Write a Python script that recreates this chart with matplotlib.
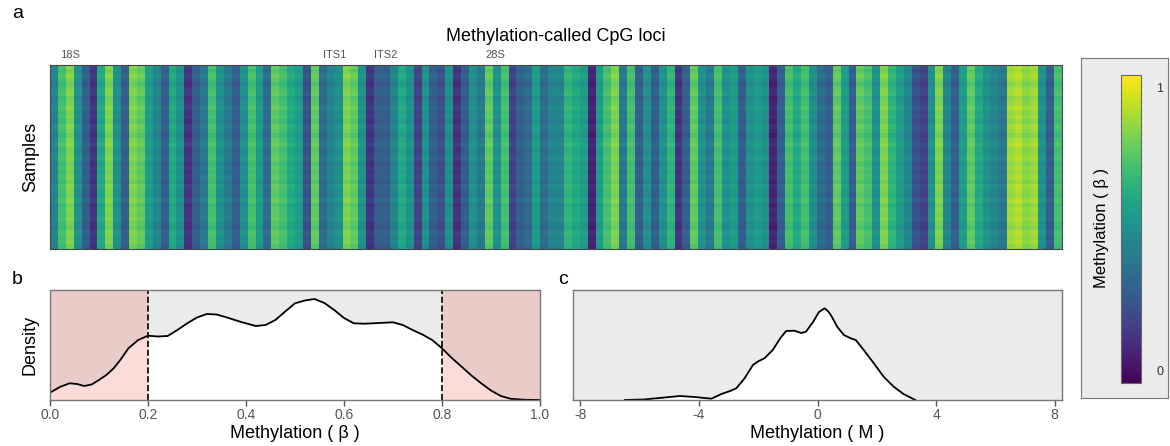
import numpy as np
import matplotlib
matplotlib.use("Agg")
import matplotlib.pyplot as plt
from matplotlib.colors import Normalize
import matplotlib.cm as cm

plt.rcParams['font.family'] = ['Liberation Sans', 'DejaVu Sans']
plt.rcParams['axes.unicode_minus'] = False

# column-wise methylation (beta) of CpG loci, read left to right
loci_beta = [
    0.45, 0.70, 0.80, 0.50, 0.30, 0.15, 0.60, 0.80, 0.50, 0.30, 0.80, 0.75, 0.55, 0.45, 0.30, 0.60,
    0.50, 0.15, 0.30, 0.40, 0.70, 0.50, 0.40, 0.30, 0.50, 0.70, 0.55, 0.35, 0.75, 0.70, 0.60, 0.55,
    0.25, 0.75, 0.35, 0.45, 0.50, 0.80, 0.75, 0.50, 0.15, 0.30, 0.30, 0.45, 0.60, 0.50, 0.20, 0.50,
    0.30, 0.25, 0.50, 0.15, 0.30, 0.50, 0.40, 0.75, 0.50, 0.70, 0.20, 0.30, 0.35, 0.55, 0.35, 0.45,
    0.45, 0.65, 0.60, 0.55, 0.10, 0.55, 0.70, 0.80, 0.40, 0.70, 0.30, 0.50, 0.30, 0.50, 0.65, 0.15,
    0.30, 0.75, 0.50, 0.40, 0.70, 0.50, 0.55, 0.30, 0.50, 0.55, 0.50, 0.10, 0.30, 0.70, 0.60, 0.70,
    0.50, 0.35, 0.30, 0.75, 0.55, 0.30, 0.75, 0.70, 0.50, 0.80, 0.65, 0.55, 0.45, 0.25, 0.20, 0.50,
    0.80, 0.45, 0.30, 0.55, 0.75, 0.60, 0.50, 0.45, 0.40, 0.85, 0.88, 0.82, 0.85, 0.50, 0.30, 0.70,
]
# per-sample shift (estimated texture of the rows)
sample_shift = [0.02, -0.01, 0.03, 0.00, -0.03, 0.01, 0.02, -0.02, 0.00, 0.03, -0.01, 0.01,
                -0.02, 0.02, 0.00, -0.03, 0.01, 0.03, -0.01, 0.00, 0.02, -0.02, 0.01, -0.01,
                0.01, -0.02, 0.02, 0.00, -0.01, 0.03, -0.02, 0.01, 0.00, 0.02, -0.01, -0.03,
                0.02, 0.00, 0.01, -0.02]

region_labels = ['18S', 'ITS1', 'ITS2', '28S']
region_pos = [0.01, 0.27, 0.32, 0.43]

# density of beta values
beta_x = [0.0, 0.02, 0.04, 0.055, 0.07, 0.085, 0.10, 0.115, 0.13, 0.145, 0.16, 0.18, 0.20,
          0.22, 0.24, 0.26, 0.28, 0.30, 0.32, 0.34, 0.36, 0.39, 0.42, 0.44, 0.46, 0.48, 0.50,
          0.52, 0.54, 0.56, 0.58, 0.60, 0.62, 0.64, 0.66, 0.68, 0.70, 0.72, 0.74, 0.76, 0.78,
          0.80, 0.82, 0.84, 0.86, 0.88, 0.90, 0.92, 0.94, 0.97, 1.0]
beta_d = [7.3, 13.0, 16.7, 16.0, 14.0, 15.5, 20.0, 25.0, 31.7, 41.0, 51.7, 60.0, 64.3,
          63.5, 64.0, 70.0, 76.7, 82.5, 86.0, 85.5, 82.7, 78.0, 74.0, 75.0, 80.0, 88.5, 96.7,
          99.5, 101.0, 97.0, 90.0, 82.0, 76.7, 76.3, 76.7, 77.2, 77.7, 75.0, 70.0, 65.5, 60.0,
          51.7, 42.0, 33.3, 24.5, 16.7, 9.5, 4.0, 1.2, 0.2, 0.0]

# density of M values
m_x = [-6.5, -5.87, -5.09, -4.64, -4.14, -3.58, -3.24, -2.95, -2.74, -2.46, -2.18, -1.98, -1.79,
       -1.51, -1.25, -1.06, -0.78, -0.55, -0.39, -0.15, 0.05, 0.24, 0.35, 0.45, 0.67, 0.89, 1.12,
       1.29, 1.56, 1.90, 2.23, 2.57, 2.90, 3.10, 3.30]
m_d = [0.0, 0.5, 2.7, 4.0, 3.0, 1.3, 6.0, 9.0, 11.7, 21.7, 35.0, 39.0, 41.7,
       50.0, 62.0, 69.0, 69.3, 67.0, 68.3, 78.0, 88.0, 91.7, 89.0, 85.0, 73.0, 65.0, 61.7,
       60.0, 50.0, 36.7, 23.3, 13.3, 6.0, 3.0, 0.0]

W, H = 1170, 446
fig = plt.figure(figsize=(W / 100, H / 100), dpi=100)


def box(x0, y0, x1, y1):
    return [x0 / W, 1 - y1 / H, (x1 - x0) / W, (y1 - y0) / H]


tick_col = '#555555'
spine_col = '#777777'

# a: heatmap
ax_a = fig.add_axes(box(50, 65, 1062, 249))
mat = np.clip(np.array(loci_beta)[None, :] + np.array(sample_shift)[:, None], 0, 1)
ax_a.imshow(mat, aspect='auto', cmap='viridis', vmin=0, vmax=1, interpolation='nearest')
ax_a.set_xticks([])
ax_a.set_yticks([])
for s in ax_a.spines.values():
    s.set_color('#444444')
    s.set_linewidth(0.8)
ax_a.set_ylabel('Samples', fontsize=13, labelpad=8)
ax_a.set_title('Methylation-called CpG loci', fontsize=13, pad=17)
for lab, p in zip(region_labels, region_pos):
    ax_a.text(p, 1.025, lab, transform=ax_a.transAxes, fontsize=8, color='#555555',
              ha='left', va='bottom')
fig.text(12 / W, 1 - 14 / H, 'a', fontsize=14, va='center')

# b: beta density
ax_b = fig.add_axes(box(50, 290, 540, 400))
ax_b.set_facecolor('#ebebeb')
ax_b.axvspan(0, 0.2, color='#e9cbc8', lw=0)
ax_b.axvspan(0.8, 1.0, color='#e9cbc8', lw=0)
bx = np.array(beta_x)
bd = np.array(beta_d)
ax_b.fill_between(bx, 0, bd, color='white', lw=0)
ax_b.fill_between(bx, 0, bd, where=bx <= 0.2, color='#fcdcd8', lw=0)
ax_b.fill_between(bx, 0, bd, where=bx >= 0.8, color='#fcdcd8', lw=0)
ax_b.plot(bx, bd, color='black', lw=1.3)
ax_b.axvline(0.2, color='black', ls='--', lw=1.2)
ax_b.axvline(0.8, color='black', ls='--', lw=1.2)
ax_b.set_xlim(0, 1)
ax_b.set_ylim(0, 110)
ax_b.set_yticks([])
ax_b.set_xticks([0, 0.2, 0.4, 0.6, 0.8, 1.0])
ax_b.set_xticklabels(['0.0', '0.2', '0.4', '0.6', '0.8', '1.0'])
ax_b.set_xlabel('Methylation ( β )', fontsize=13, labelpad=2)
ax_b.set_ylabel('Density', fontsize=13, labelpad=8)
fig.text(12 / W, 1 - 280 / H, 'b', fontsize=14, va='center')

# c: M density
ax_c = fig.add_axes(box(573, 290, 1062, 400))
ax_c.set_facecolor('#ebebeb')
ax_c.fill_between(m_x, 0, m_d, color='white', lw=0)
ax_c.plot(m_x, m_d, color='black', lw=1.3)
ax_c.set_xlim(-8.25, 8.25)
ax_c.set_ylim(0, 110)
ax_c.set_yticks([])
ax_c.set_xticks([-8, -4, 0, 4, 8])
ax_c.set_xlabel('Methylation ( M )', fontsize=13, labelpad=2)
fig.text(558 / W, 1 - 280 / H, 'c', fontsize=14, va='center')

for ax in (ax_b, ax_c):
    for s in ax.spines.values():
        s.set_color(spine_col)
        s.set_linewidth(1.0)
    ax.tick_params(axis='x', colors=tick_col, labelsize=10, length=4, width=1, pad=2)

# colorbar legend box
ax_leg = fig.add_axes(box(1081, 58, 1168, 398))
ax_leg.set_facecolor('#ebebeb')
ax_leg.set_xticks([])
ax_leg.set_yticks([])
for s in ax_leg.spines.values():
    s.set_color(spine_col)
ax_leg.text(0.24, 0.5, 'Methylation ( β )', rotation=90, transform=ax_leg.transAxes,
            ha='center', va='center', fontsize=12)
ax_cb = fig.add_axes(box(1121, 75, 1141, 383))
cb = fig.colorbar(cm.ScalarMappable(norm=Normalize(0, 1), cmap='viridis'), cax=ax_cb)
cb.set_ticks([0.04, 0.96])
cb.set_ticklabels(['0', '1'])
cb.ax.tick_params(length=0, labelsize=9, pad=11, colors='#333333')
cb.outline.set_edgecolor('#666666')
cb.outline.set_linewidth(0.8)

fig.savefig('out.png', dpi=100)
